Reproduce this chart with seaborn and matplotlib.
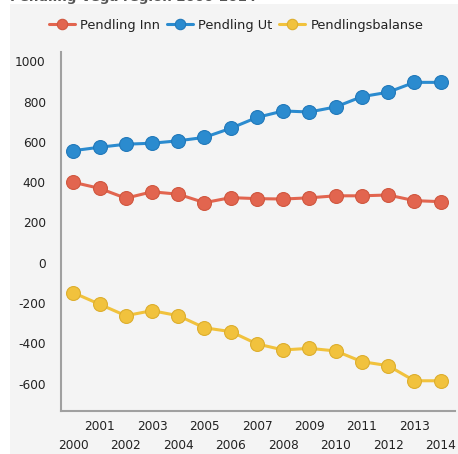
import matplotlib
matplotlib.use("Agg")
import matplotlib.pyplot as plt
import seaborn as sns
import pandas as pd
from matplotlib.patches import Rectangle

years = list(range(2000, 2015))
pendling_inn = [399, 369, 320, 352, 340, 298, 323, 318, 316, 322, 332, 332, 336, 308, 303]
pendling_ut = [556, 573, 588, 593, 605, 622, 667, 721, 753, 748, 773, 824, 846, 895, 895]
pendlingsbalanse = [-149, -206, -263, -238, -263, -323, -342, -403, -433, -425, -438, -491, -511, -586, -586]
series_names = ["Pendling Inn", "Pendling Ut", "Pendlingsbalanse"]
colors = ["#E2654F", "#2B8BCF", "#F1C23D"]
edge_colors = ["#D0573F", "#2279BA", "#DDAE2E"]
y_ticks = [-600, -400, -200, 0, 200, 400, 600, 800, 1000]

df = pd.DataFrame({
    "year": years * 3,
    "value": pendling_inn + pendling_ut + pendlingsbalanse,
    "series": [series_names[0]] * len(years) + [series_names[1]] * len(years) + [series_names[2]] * len(years),
})

sns.set_style("white")
plt.rcParams["font.family"] = ["DejaVu Sans"]

fig = plt.figure(figsize=(4.58, 4.54), dpi=100)
fig.patch.set_facecolor("white")
bg = Rectangle((10 / 458, 0), 448 / 458, 450 / 454, transform=fig.transFigure,
               facecolor="#F4F4F4", edgecolor="none", zorder=-10)
fig.add_artist(bg)
fig.text(10 / 458, 1.0 - 1.5 / 454, "Pendling Vega region 2000-2014", fontsize=9.6, color="#555555",
         ha="left", va="baseline", fontweight="bold", zorder=5)

ax = fig.add_axes([61 / 458, 1 - 410.7 / 454, (455 - 61) / 458, (410.7 - 52.3) / 454])
ax.set_zorder(2)
ax.set_facecolor("#F4F4F4")

sns.lineplot(data=df, x="year", y="value", hue="series", palette=colors, hue_order=series_names,
             marker="o", markersize=10, linewidth=2.2, markeredgewidth=0.8,
             ax=ax, legend=True)
for line, c in zip(ax.lines, edge_colors):
    line.set_markeredgecolor(c)

ax.set_xlim(1999.53, 2014.55)
ax.set_ylim(-734.5, 1044.2)
ax.set_yticks(y_ticks)
ax.set_yticklabels([str(v) for v in y_ticks])
ax.set_xticks(years)
ax.set_xticklabels([str(y) for y in years])
ax.set_xlabel("")
ax.set_ylabel("")

for s in ["top", "right"]:
    ax.spines[s].set_visible(False)
for s in ["left", "bottom"]:
    ax.spines[s].set_color("#A0A0A0")
    ax.spines[s].set_linewidth(1.5)

ax.tick_params(axis="y", length=5.5, width=1, color="#A0A0A0", pad=5.5, labelsize=8.7, labelcolor="#222222")
ax.tick_params(axis="x", length=2, width=1, color="#A0A0A0", labelsize=8.7, labelcolor="#222222", pad=5)
for i, t in enumerate(ax.xaxis.get_major_ticks()):
    if years[i] % 2 == 0:
        t.set_pad(18.5)
    else:
        t.set_pad(5)

handles, labels = ax.get_legend_handles_labels()
for h, c in zip(handles, edge_colors):
    h.set_markeredgecolor(c)
ax.legend(handles, labels, loc="center", bbox_to_anchor=(236 / 458, 1 - 25 / 454),
          bbox_transform=fig.transFigure, ncol=3, frameon=False, fontsize=9.3,
          handlelength=2.0, handletextpad=0.4, columnspacing=0.55, markerscale=0.75,
          labelcolor="#222222", borderpad=0)

fig.savefig("out.png", dpi=100, facecolor="white")
